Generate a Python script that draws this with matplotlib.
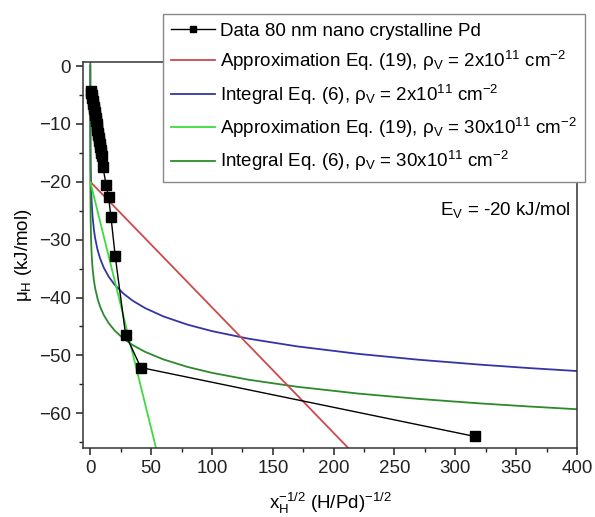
import matplotlib
matplotlib.use("Agg")
import matplotlib.pyplot as plt
from matplotlib.lines import Line2D
from matplotlib.ticker import MultipleLocator

plt.rcParams['font.family'] = ['Liberation Sans', 'DejaVu Sans']
plt.rcParams['mathtext.fontset'] = 'custom'
plt.rcParams['mathtext.rm'] = 'Liberation Sans'
plt.rcParams['mathtext.it'] = 'Liberation Sans:italic'

# ---- data ----
data_x = [0.6, 0.9, 1.2, 1.5, 1.9, 2.3, 2.7, 3.1, 3.5, 3.9, 4.3, 4.7, 5.1, 5.5,
          5.9, 6.3, 6.7, 7.1, 7.5, 7.9, 8.3, 8.7, 9.1, 9.6,
          10.4, 13.1, 15.0, 17.0, 20.5, 29.0, 41.5, 316.0]
data_y = [-4.3, -4.6, -5.0, -5.5, -6.0, -6.5, -7.0, -7.5, -8.0, -8.5, -9.0, -9.5,
          -10.0, -10.5, -11.0, -11.5, -12.0, -12.5, -13.0, -13.5, -14.0, -14.5,
          -15.0, -15.6,
          -17.5, -20.6, -22.6, -26.1, -32.9, -46.4, -52.1, -64.0]

approx2_x = [0, 212]
approx2_y = [-20, -66]

approx30_x = [0, 54]
approx30_y = [-20, -66]

integ2_x = [0.01, 0.03, 0.1, 0.3, 0.6, 1, 1.5, 2, 3, 4, 6, 8, 11, 15, 20, 27, 35,
            45, 60, 80, 100, 130, 170, 220, 270, 320, 360, 400]
integ2_y = [0.07, -5.40, -11.40, -16.87, -20.32, -22.87, -24.88, -26.32, -28.34,
            -29.77, -31.79, -33.22, -34.81, -36.35, -37.79, -39.28, -40.57,
            -41.82, -43.26, -44.69, -45.80, -47.11, -48.44, -49.73, -50.75,
            -51.59, -52.18, -52.70]

integ30_x = [0.0005, 0.003, 0.01, 0.03, 0.1, 0.3, 0.6, 1, 1.5, 2, 3, 4, 6, 8, 11,
             15, 20, 27, 35, 45, 60, 80, 100, 130, 170, 220, 270, 320, 360, 400]
integ30_y = [2.41, -5.73, -11.19, -16.18, -21.65, -26.64, -29.78, -32.10, -33.94,
             -35.25, -37.09, -38.40, -40.24, -41.54, -42.99, -44.39, -45.70,
             -47.06, -48.24, -49.38, -50.69, -52.00, -53.01, -54.20, -55.42,
             -56.59, -57.52, -58.29, -58.82, -59.30]

labels = [
    "Data 80 nm nano crystalline Pd",
    r"Approximation Eq. (19), ρ$_\mathregular{V}$ = 2x10$^\mathregular{11}$ cm$^\mathregular{-2}$",
    r"Integral Eq. (6), ρ$_\mathregular{V}$ = 2x10$^\mathregular{11}$ cm$^\mathregular{-2}$",
    r"Approximation Eq. (19), ρ$_\mathregular{V}$ = 30x10$^\mathregular{11}$ cm$^\mathregular{-2}$",
    r"Integral Eq. (6), ρ$_\mathregular{V}$ = 30x10$^\mathregular{11}$ cm$^\mathregular{-2}$",
]

c_red = '#cc4a4a'
c_blue = '#3434a8'
c_lgreen = '#3ddc3d'
c_dgreen = '#2c8a2c'

fig = plt.figure(figsize=(5.95, 5.17), dpi=100)
ax = fig.add_axes([83/595, 1-448/517, (577-83)/595, (448-62)/517])

ax.plot(integ2_x, integ2_y, color=c_blue, lw=1.3, zorder=2)
ax.plot(integ30_x, integ30_y, color=c_dgreen, lw=1.3, zorder=2)
ax.plot(approx2_x, approx2_y, color=c_red, lw=1.3, zorder=2)
ax.plot(approx30_x, approx30_y, color=c_lgreen, lw=1.3, zorder=2)
ax.plot(data_x, data_y, color='black', lw=1.0, marker='s', markersize=6.5,
        markerfacecolor='black', markeredgecolor='black', zorder=3)

ax.set_xlim(-6, 400)
ax.set_ylim(-66, 0.7)
ax.xaxis.set_major_locator(MultipleLocator(50))
ax.xaxis.set_minor_locator(MultipleLocator(25))
ax.yaxis.set_major_locator(MultipleLocator(10))
ax.yaxis.set_minor_locator(MultipleLocator(5))
ax.tick_params(which='major', direction='out', length=5, width=1.1, labelsize=13.5,
               colors='#222222')
ax.tick_params(which='minor', direction='out', length=3, width=1.0, colors='#222222')
for s in ax.spines.values():
    s.set_linewidth(1.1)
    s.set_color('#333333')

ax.set_xlabel(r"x$_\mathregular{H}^\mathregular{-1/2}$ (H/Pd)$^\mathregular{-1/2}$",
              fontsize=13.5, labelpad=10)
ax.set_ylabel(r"μ$_\mathregular{H}$ (kJ/mol)", fontsize=13.5, labelpad=4)

ax.text(0.986, 0.617, r"E$_\mathregular{V}$ = -20 kJ/mol", transform=ax.transAxes,
        ha='right', va='center', fontsize=13.5)

handles = [
    Line2D([], [], color='black', lw=1.0, marker='s', markersize=5),
    Line2D([], [], color=c_red, lw=1.3),
    Line2D([], [], color=c_blue, lw=1.3),
    Line2D([], [], color=c_lgreen, lw=1.3),
    Line2D([], [], color=c_dgreen, lw=1.3),
]
leg = ax.legend(handles, labels, loc='upper left',
                bbox_to_anchor=(163/595, 1-14/517), bbox_transform=fig.transFigure,
                fontsize=13.5, frameon=True, fancybox=False, framealpha=1,
                edgecolor='#888888', handlelength=2.3, handletextpad=0.3,
                labelspacing=0.5, borderpad=0.45, borderaxespad=0)
leg.get_frame().set_linewidth(1.0)
leg.set_zorder(10)

fig.savefig("out.png", dpi=100)
